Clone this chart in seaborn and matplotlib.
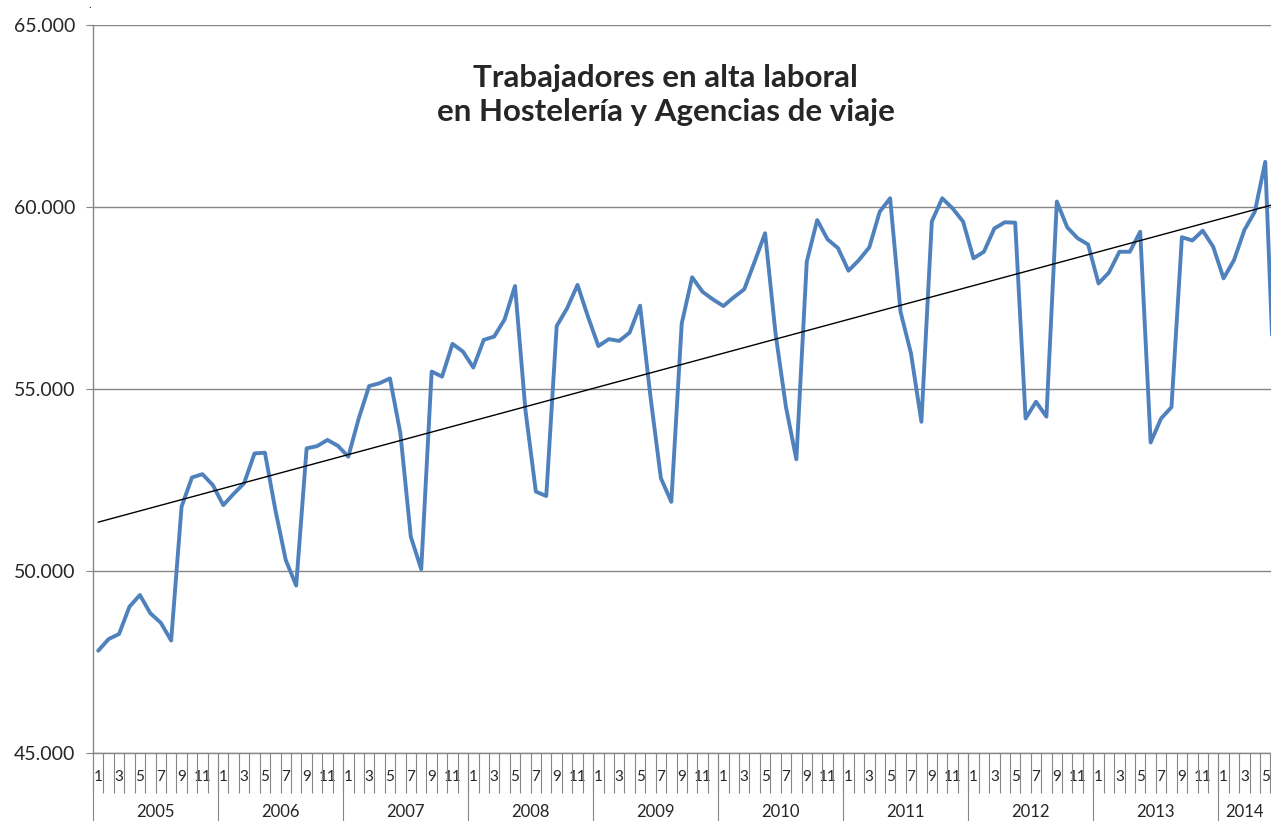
import numpy as np
import pandas as pd
import matplotlib
matplotlib.use("Agg")
import matplotlib.pyplot as plt
import seaborn as sns
from matplotlib.ticker import FuncFormatter

# --- Data (workers registered, monthly) ---
years = [2005, 2006, 2007, 2008, 2009, 2010, 2011, 2012, 2013, 2014]
v2005 = [47810, 48130, 48270, 49020, 49340, 48840, 48580, 48090, 51770, 52570, 52660, 52360]
v2006 = [51810, 52120, 52410, 53230, 53250, 51680, 50300, 49600, 53370, 53430, 53600, 53440]
v2007 = [53140, 54190, 55080, 55160, 55290, 53780, 50940, 50050, 55480, 55340, 56240, 56030]
v2008 = [55590, 56350, 56440, 56910, 57830, 54420, 52180, 52060, 56730, 57220, 57860, 56990]
v2009 = [56180, 56370, 56320, 56550, 57290, 54790, 52550, 51900, 56800, 58070, 57670, 57460]
v2010 = [57280, 57520, 57740, 58500, 59280, 56530, 54510, 53070, 58500, 59640, 59110, 58870]
v2011 = [58250, 58540, 58890, 59870, 60240, 57120, 55980, 54100, 59600, 60240, 59960, 59600]
v2012 = [58590, 58770, 59410, 59580, 59570, 54190, 54650, 54240, 60150, 59440, 59140, 58970]
v2013 = [57900, 58200, 58770, 58770, 59320, 53530, 54190, 54500, 59170, 59080, 59350, 58910]
v2014 = [58040, 58540, 59370, 59870, 61240, 53900]
series = [v2005, v2006, v2007, v2008, v2009, v2010, v2011, v2012, v2013, v2014]

title = "Trabajadores en alta laboral\nen Hostelería y Agencias de viaje"

rows = []
for y, vals in zip(years, series):
    for m, v in enumerate(vals, start=1):
        rows.append({"anio": y, "mes": m, "trabajadores": v})
df = pd.DataFrame(rows)
df["idx"] = np.arange(len(df))

# --- Style ---
sns.set_style("white")
plt.rcParams["font.family"] = ["Lato", "DejaVu Sans"]
GRAY = "#868686"
BLUE = "#4F81BD"

W, H = 1271, 821
fig = plt.figure(figsize=(W / 100, H / 100), dpi=100)
ax_l, ax_r, ax_t, ax_b = 93, 1271, 25, 753
ax = fig.add_axes([ax_l / W, 1 - ax_b / H, (ax_r - ax_l) / W, (ax_b - ax_t) / H])

sns.lineplot(data=df, x="idx", y="trabajadores", color=BLUE, linewidth=2.8, ax=ax, zorder=3)
sns.regplot(data=df, x="idx", y="trabajadores", scatter=False, ci=None, ax=ax,
            line_kws={"color": "black", "linewidth": 1.0, "zorder": 4})

ax.set_ylim(45000, 65000)
ax.set_yticks([45000, 50000, 55000, 60000, 65000])
ax.yaxis.set_major_formatter(FuncFormatter(lambda v, p: f"{int(v):,}".replace(",", ".")))
ax.grid(axis="y", color=GRAY, linewidth=1.0)
ax.set_axisbelow(True)

for s in ["top", "right"]:
    ax.spines[s].set_visible(False)
for s in ["left", "bottom"]:
    ax.spines[s].set_color(GRAY)
    ax.spines[s].set_linewidth(1.0)

ax.tick_params(axis="y", length=5, color=GRAY, labelsize=14, pad=8, left=True)

# month labels at odd months, boundary ticks between categories
odd = df[df["mes"] % 2 == 1]
ax.set_xticks(odd["idx"])
ax.set_xticklabels(odd["mes"].astype(str))
ax.set_xticks(np.arange(-0.5, len(df) + 0.5, 1), minor=True)
ax.tick_params(axis="x", which="major", length=0, labelsize=11, pad=12)
ax.tick_params(axis="x", which="minor", length=29, color=GRAY, width=0.8, bottom=True)
ax.set_xlabel("")
ax.set_ylabel("")

# set limits after ticks (set_xticks widens the view)
xmax = (ax_r - ax_l) / 10.42 - 0.5
ax.set_xlim(-0.5, xmax)

# year separators and labels
trans = ax.get_xaxis_transform()
below = (H - ax_b) / (ax_b - ax_t)
starts = df.groupby("anio")["idx"].min()
ends = df.groupby("anio")["idx"].max()
for y in years:
    x0 = starts[y] - 0.5
    x1 = min(ends[y] + 0.5, xmax)
    ax.plot([x0, x0], [0, -below], transform=trans, color=GRAY, linewidth=0.8, clip_on=False)
    ax.text((x0 + x1) / 2, -59 / (ax_b - ax_t), str(y), transform=trans,
            ha="center", va="center", fontsize=12)

ax.text(0.486, 1 - 70 / (ax_b - ax_t), title, transform=ax.transAxes, ha="center", va="center",
        fontsize=22.5, fontweight="bold", linespacing=1.25)

fig.text(90 / W, 1 - 5 / H, ".", ha="center", va="center", fontsize=8)

plt.savefig("out.png", dpi=100)
plt.close()
